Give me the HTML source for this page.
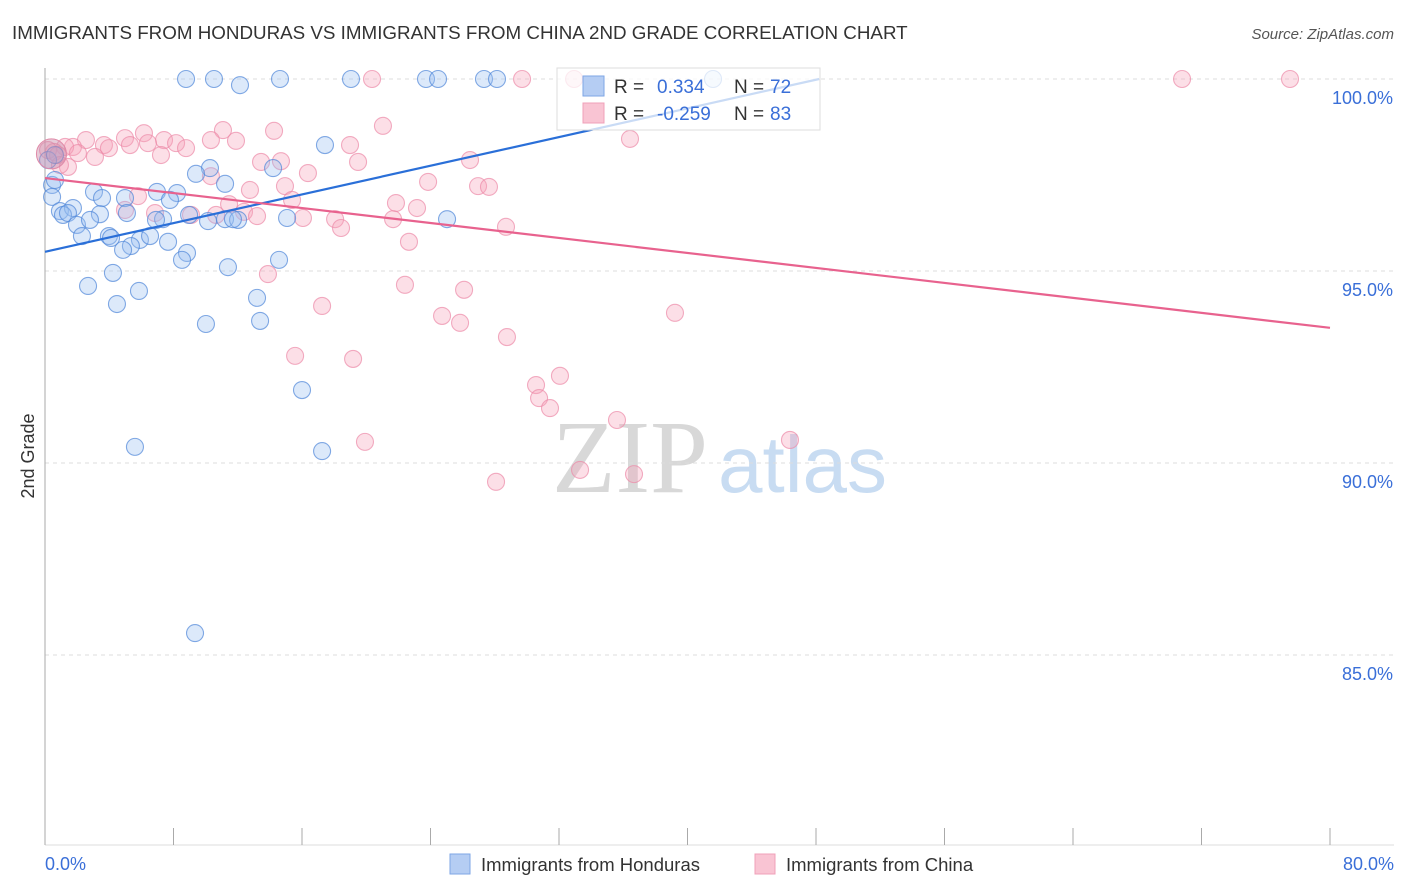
<!DOCTYPE html>
<html><head><meta charset="utf-8"><style>
body{margin:0;background:#fff;font-family:"Liberation Sans",sans-serif}
svg{display:block}
</style></head><body>
<svg id="chart" width="1406" height="892">
<text x="12" y="39" font-size="18.8" fill="#333">IMMIGRANTS FROM HONDURAS VS IMMIGRANTS FROM CHINA 2ND GRADE CORRELATION CHART</text>
<text x="1394" y="39" font-size="15" fill="#555" font-style="italic" text-anchor="end">Source: ZipAtlas.com</text>
<g>
<text x="552" y="492" font-size="104" font-family="Liberation Serif, serif" fill="#d8d8d8">ZIP</text>
<text x="718" y="492" font-size="80" fill="#c8dcf2">atlas</text>
</g>
<g id="grid"></g>
<g id="axes"></g>
<g id="pts"></g>
<g id="lines"></g>
<text transform="translate(34,456) rotate(-90)" font-size="18" fill="#333" text-anchor="middle">2nd Grade</text>
<text x="45" y="870" font-size="18" fill="#3a6fd8">0.0%</text>
<text x="1394" y="870" font-size="18" fill="#3a6fd8" text-anchor="end">80.0%</text>
<g>
<rect x="557" y="68" width="263" height="62" fill="#fff" fill-opacity="0.75" stroke="#ddd"/>
<rect x="583" y="76" width="21" height="20" fill="#b5cdf3" stroke="#7ea6e6"/>
<rect x="583" y="103" width="21" height="20" fill="#f9c4d3" stroke="#f0a0b8"/>
<text y="93" font-size="19"><tspan x="614" fill="#333">R = </tspan><tspan x="657" fill="#3a6fd8">0.334</tspan><tspan x="734" fill="#333">N = </tspan><tspan x="770" fill="#3a6fd8">72</tspan></text>
<text y="120" font-size="19"><tspan x="614" fill="#333">R = </tspan><tspan x="657" fill="#3a6fd8">-0.259</tspan><tspan x="734" fill="#333">N = </tspan><tspan x="770" fill="#3a6fd8">83</tspan></text>
</g>
<g>
<rect x="450" y="854" width="20" height="20" fill="#b5cdf3" stroke="#7ea6e6"/>
<text x="481" y="871" font-size="18.5" fill="#333">Immigrants from Honduras</text>
<rect x="755" y="854" width="20" height="20" fill="#f9c4d3" stroke="#f0a0b8"/>
<text x="786" y="871" font-size="18.5" fill="#333">Immigrants from China</text>
</g>
</svg>
<script>
const yTicks=[100,95,90,85];
const yTickLabels=["100.0%","95.0%","90.0%","85.0%"];
const xTicks=[0,8,16,24,32,40,48,56,64,72,80];
const hondurasX=[8.78,10.52,12.14,14.63,19.05,23.72,24.47,27.33,28.14,41.59,17.43,14.2,10.27,9.4,11.21,3.05,6.97,8.22,4.98,3.55,7.78,0.44,0.44,0.62,0.93,1.74,1.12,1.43,3.42,5.1,8.97,7.35,6.91,10.15,11.21,12.02,11.7,15.07,25.03,1.99,2.8,2.3,3.98,4.11,5.91,5.35,6.54,7.66,4.86,8.84,8.53,14.57,11.39,4.23,2.68,5.85,4.48,13.2,10.02,13.39,16.0,17.25,5.6,9.34,0.19,0.62];
const hondurasY=[100,100,99.84,100,100,100,100,100,100,100,98.28,97.68,97.68,97.53,97.27,97.06,97.06,97.03,96.9,96.9,96.85,97.24,96.93,97.37,96.56,96.64,96.46,96.51,96.48,96.51,96.46,96.35,96.33,96.3,96.35,96.33,96.35,96.38,96.35,96.2,96.33,95.91,95.91,95.86,95.81,95.65,95.91,95.76,95.55,95.47,95.29,95.29,95.1,94.95,94.61,94.48,94.14,94.3,93.62,93.7,91.9,90.31,90.42,85.57,97.89,98.02];
const chinaX=[20.36,29.7,32.94,70.79,77.51,21.04,36.42,14.26,11.08,6.16,4.98,2.55,3.67,1.74,7.41,8.16,5.29,6.41,8.78,7.22,3.98,1.25,0.56,0.19,0.81,1.43,2.05,3.11,10.33,11.89,18.99,26.46,19.49,13.45,14.69,16.37,14.94,23.85,26.96,27.64,10.33,5.79,12.76,11.46,15.38,21.85,23.16,12.39,9.09,10.65,4.98,6.85,18.06,18.43,16.06,21.67,28.7,22.66,13.88,22.41,26.09,17.25,24.72,25.84,28.76,15.57,19.18,30.57,32.06,30.76,31.44,35.61,46.38,19.92,33.31,36.67,28.08,39.22,13.2,0.93];
const chinaY=[100,100,100,100,100,98.78,98.44,98.65,98.67,98.59,98.46,98.41,98.28,98.23,98.41,98.33,98.28,98.33,98.2,98.02,98.2,98.23,98.1,98.15,98.02,97.71,98.07,97.97,98.41,98.39,98.28,97.89,97.84,97.84,97.86,97.55,97.21,97.32,97.21,97.19,97.47,96.95,97.11,96.74,96.85,96.77,96.64,96.54,96.46,96.46,96.59,96.51,96.35,96.12,96.38,96.35,96.15,95.76,94.92,94.64,94.51,94.09,93.83,93.65,93.28,92.79,92.71,92.03,92.27,91.69,91.43,91.12,90.6,90.55,89.82,89.71,89.51,93.91,96.43,97.76];
const hondurasTrend=[0,95.5,48.2,100];
const chinaTrend=[0,97.42,80,93.52];
const NS="http://www.w3.org/2000/svg";
const X=v=>45+v/80*1285;
const Y=v=>79+(100-v)*38.4;
function mk(tag,attrs,parent){const e=document.createElementNS(NS,tag);for(const k in attrs)e.setAttribute(k,attrs[k]);document.getElementById(parent).appendChild(e);return e;}
yTicks.forEach((t,i)=>{
 const l=mk('line',{x1:45,x2:1394,y1:Y(t),y2:Y(t),stroke:'#ddd','stroke-dasharray':'4,4'},'grid');
 
 
 const tx=mk('text',{x:1393,y:Y(t)+25,'font-size':18,fill:'#3a6fd8','text-anchor':'end'},'grid');
 tx.textContent=yTickLabels[i];
 
 
});
const ya=mk('line',{x1:45,x2:45,y1:68,y2:845,stroke:'#aaa'},'axes');


const xa=mk('line',{x1:45,x2:1394,y1:845,y2:845,stroke:'#ddd'},'axes');


xTicks.forEach(t=>{
 const l=mk('line',{x1:X(t),x2:X(t),y1:828,y2:845,stroke:'#aaa'},'axes');
 
 
});
function pts(xs,ys,fill,stroke,name){
 xs.forEach((x,i)=>{
  const c=mk('circle',{cx:X(x),cy:Y(ys[i]),r:8.5,fill:fill,'fill-opacity':0.35,stroke:stroke,'stroke-width':1.1,'stroke-opacity':0.7},'pts');
  
  
 });
}
pts(chinaX,chinaY,'#f5a3bb','#ec8aa8','china-point');
pts(hondurasX,hondurasY,'#9cc0f0','#4f86d8','honduras-point');
const big=mk('circle',{cx:X(0.4),cy:Y(98.05),r:15,fill:'#c88aa8','fill-opacity':0.45,stroke:'#e08aa8'},'pts');


const hl=mk('line',{x1:X(hondurasTrend[0]),y1:Y(hondurasTrend[1]),x2:X(hondurasTrend[2]),y2:Y(hondurasTrend[3]),stroke:'#2a6fd8','stroke-width':2.2},'lines');


const cl=mk('line',{x1:X(chinaTrend[0]),y1:Y(chinaTrend[1]),x2:X(chinaTrend[2]),y2:Y(chinaTrend[3]),stroke:'#e8628e','stroke-width':2.2},'lines');


</script>
</body></html>
